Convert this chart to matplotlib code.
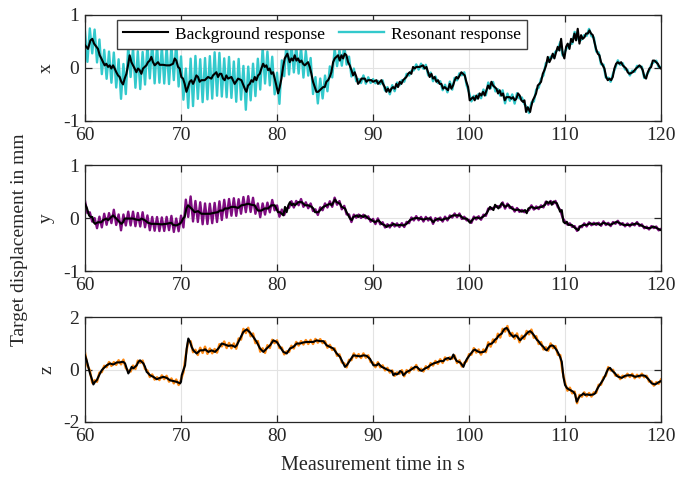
import numpy as np
import matplotlib
matplotlib.use("Agg")
import matplotlib.pyplot as plt

plt.rcParams['font.family'] = ['Liberation Serif', 'DejaVu Serif']
plt.rcParams['axes.unicode_minus'] = False

# ---------------- x direction ----------------
x_time = [
    60.00, 60.31, 60.56, 60.76, 60.94, 61.18, 61.35, 61.53, 61.70, 61.88,
    62.05, 62.22, 62.40, 62.57, 62.74, 62.92, 63.09, 63.26, 63.44, 63.61,
    63.78, 63.96, 64.13, 64.31, 64.48, 64.65, 64.83, 65.00, 65.17, 65.35,
    65.52, 65.69, 65.87, 66.04, 66.22, 66.39, 66.56, 66.74, 66.91, 67.08,
    67.26, 67.43, 67.60, 67.78, 68.13, 68.47, 68.82, 69.17, 69.34, 69.51,
    69.69, 69.86, 70.03, 70.21, 70.38, 70.56, 70.73, 70.90, 71.08, 71.25,
    71.42, 71.60, 71.77, 71.94, 72.12, 72.47, 72.81, 73.16, 73.33, 73.68,
    73.85, 74.03, 74.20, 74.38, 74.55, 74.72, 74.90, 75.25, 75.59, 75.94,
    76.29, 76.64, 76.81, 76.98, 77.16, 77.33, 77.50, 77.68, 77.85, 78.03,
    78.20, 78.37, 78.55, 78.72, 78.89, 79.07, 79.24, 79.41, 79.59, 79.76,
    79.93, 80.11, 80.28, 80.46, 80.63, 80.80, 81.08, 81.32, 81.50, 81.67,
    81.84, 82.02, 82.19, 82.37, 82.54, 82.71, 82.89, 83.23, 83.41, 83.58,
    83.75, 83.93, 84.10, 84.28, 84.45, 84.62, 84.80, 84.97, 85.14, 85.32,
    85.49, 85.66, 85.84, 86.01, 86.18, 86.36, 86.53, 86.71, 86.88, 87.05,
    87.23, 87.40, 87.57, 87.75, 87.92, 88.09, 88.27, 88.44, 88.62, 88.79,
    89.14, 89.31, 89.48, 89.83, 90.00, 90.35, 90.52, 90.87, 91.04, 91.22,
    91.39, 91.56, 91.74, 91.91, 92.08, 92.26, 92.43, 92.60, 92.78, 92.95,
    93.13, 93.30, 93.47, 93.65, 93.82, 93.99, 94.17, 94.34, 94.51, 94.86,
    95.21, 95.38, 95.56, 95.73, 95.90, 96.08, 96.25, 96.42, 96.60, 96.77,
    96.94, 97.12, 97.29, 97.47, 97.64, 97.81, 97.99, 98.16, 98.33, 98.51,
    98.68, 98.85, 99.03, 99.20, 99.38, 99.55, 99.72, 99.90, 100.07, 100.42,
    100.59, 100.76, 100.94, 101.11, 101.28, 101.46, 101.63, 101.81, 101.98, 102.15,
    102.33, 102.50, 102.67, 102.85, 103.02, 103.19, 103.37, 103.54, 103.72, 103.89,
    104.24, 104.41, 104.58, 104.76, 104.93, 105.10, 105.28, 105.45, 105.63, 105.77,
    105.94, 106.12, 106.36, 106.46, 106.64, 106.81, 106.98, 107.16, 107.33, 107.50,
    107.68, 107.85, 108.03, 108.20, 108.37, 108.55, 108.72, 108.89, 109.07, 109.24,
    109.41, 109.59, 109.76, 109.93, 110.11, 110.28, 110.46, 110.63, 110.80, 110.98,
    111.15, 111.32, 111.50, 111.67, 111.84, 112.02, 112.19, 112.37, 112.54, 112.71,
    112.89, 113.06, 113.23, 113.41, 113.58, 113.75, 113.93, 114.10, 114.28, 114.45,
    114.62, 114.80, 114.97, 115.14, 115.32, 115.49, 115.66, 115.84, 116.01, 116.18,
    116.36, 116.53, 116.71, 117.05, 117.40, 117.57, 117.75, 117.92, 118.09, 118.27,
    118.44, 118.62, 118.79, 118.97, 119.14, 119.31, 119.48, 119.66, 119.83, 120.00,
]
x_background = [
    0.43, 0.36, 0.52, 0.55, 0.46, 0.40, 0.36, 0.24, 0.18, 0.11,
    0.05, 0.08, 0.02, 0.05, -0.01, 0.05, -0.01, -0.08, -0.14, -0.17,
    -0.26, -0.31, -0.20, -0.11, 0.05, 0.24, 0.11, 0.05, -0.01, -0.08,
    -0.01, -0.04, -0.11, -0.01, 0.02, 0.05, 0.11, 0.14, 0.21, 0.11,
    0.05, 0.08, 0.11, 0.06, 0.06, 0.05, 0.05, 0.08, 0.18, 0.14,
    0.02, -0.01, -0.17, -0.20, -0.30, -0.45, -0.36, -0.26, -0.23, -0.30,
    -0.23, -0.14, -0.17, -0.26, -0.23, -0.23, -0.17, -0.20, -0.14, -0.08,
    -0.17, -0.11, -0.11, -0.20, -0.23, -0.14, -0.20, -0.17, -0.30, -0.20,
    -0.23, -0.39, -0.45, -0.33, -0.30, -0.23, -0.26, -0.17, -0.23, -0.14,
    -0.11, -0.01, 0.08, 0.02, 0.05, -0.04, -0.01, -0.11, -0.08, -0.20,
    -0.33, -0.48, -0.36, -0.20, 0.02, 0.18, 0.27, 0.11, 0.18, 0.14,
    0.24, 0.14, 0.18, 0.11, 0.14, 0.08, 0.05, 0.11, 0.02, -0.11,
    -0.26, -0.36, -0.45, -0.45, -0.42, -0.39, -0.36, -0.36, -0.26, -0.23,
    -0.17, -0.08, 0.11, 0.18, 0.21, 0.24, 0.14, 0.24, 0.18, 0.27,
    0.24, 0.11, 0.05, -0.04, -0.14, -0.08, -0.17, -0.30, -0.26, -0.20,
    -0.20, -0.26, -0.23, -0.23, -0.26, -0.23, -0.30, -0.23, -0.30, -0.36,
    -0.45, -0.39, -0.45, -0.39, -0.36, -0.39, -0.30, -0.36, -0.26, -0.30,
    -0.23, -0.20, -0.17, -0.11, -0.08, -0.11, 0.02, -0.01, 0.02, 0.02,
    0.05, -0.01, 0.02, -0.08, -0.17, -0.11, -0.20, -0.17, -0.26, -0.23,
    -0.30, -0.30, -0.39, -0.36, -0.39, -0.42, -0.30, -0.39, -0.33, -0.23,
    -0.17, -0.20, -0.14, -0.08, -0.11, -0.14, -0.26, -0.36, -0.61, -0.55,
    -0.61, -0.52, -0.58, -0.48, -0.52, -0.45, -0.52, -0.42, -0.33, -0.39,
    -0.26, -0.33, -0.36, -0.39, -0.48, -0.42, -0.52, -0.48, -0.61, -0.55,
    -0.55, -0.58, -0.55, -0.61, -0.58, -0.48, -0.52, -0.61, -0.64, -0.61,
    -0.83, -0.74, -0.83, -0.74, -0.61, -0.55, -0.48, -0.33, -0.30, -0.26,
    -0.11, -0.04, 0.05, 0.21, 0.11, 0.18, 0.27, 0.18, 0.30, 0.40,
    0.33, 0.55, 0.27, 0.18, 0.40, 0.46, 0.36, 0.55, 0.49, 0.65,
    0.52, 0.74, 0.46, 0.62, 0.55, 0.58, 0.65, 0.65, 0.71, 0.65,
    0.62, 0.49, 0.36, 0.27, 0.24, 0.11, 0.05, -0.01, -0.17, -0.23,
    -0.20, -0.23, -0.17, -0.01, 0.08, 0.11, 0.08, 0.11, 0.05, 0.02,
    -0.01, -0.08, -0.11, -0.08, -0.01, 0.02, 0.05, 0.02, -0.04, -0.17,
    -0.20, -0.08, -0.01, 0.02, 0.14, 0.14, 0.11, 0.08, 0.02, -0.01,
]
# half peak-to-peak size of the resonant swing about the background
x_swing_time = [60, 61, 63, 64, 65, 70, 71, 75, 78, 80, 83, 85, 87, 88, 89, 90, 100, 103, 110, 113, 120]
x_swing = [0.25, 0.28, 0.27, 0.36, 0.33, 0.36, 0.42, 0.40, 0.33, 0.30, 0.25, 0.20, 0.18, 0.10, 0.06, 0.05, 0.05, 0.07, 0.05, 0.04, 0.03]

# ---------------- y direction ----------------
y_time = [
    60.00, 60.21, 60.42, 60.56, 60.76, 60.90, 61.04, 61.35, 61.70, 61.88,
    62.22, 62.40, 62.74, 62.92, 63.26, 63.61, 63.78, 63.96, 64.13, 64.48,
    65.00, 65.35, 65.69, 65.87, 66.22, 66.56, 66.91, 67.43, 67.95, 68.47,
    69.00, 69.17, 69.51, 69.86, 70.03, 70.21, 70.38, 70.56, 70.73, 71.08,
    71.42, 71.77, 72.12, 72.47, 72.99, 73.51, 73.85, 74.03, 74.38, 74.55,
    74.90, 75.24, 75.59, 75.94, 76.29, 76.63, 76.98, 77.33, 77.67, 77.85,
    78.02, 78.37, 78.72, 79.06, 79.41, 79.76, 80.10, 80.31, 80.66, 80.83,
    81.00, 81.18, 81.35, 81.53, 81.70, 81.87, 82.22, 82.57, 82.91, 83.26,
    83.61, 83.78, 83.96, 84.30, 84.65, 84.82, 85.17, 85.52, 85.69, 86.04,
    86.21, 86.56, 86.73, 87.08, 87.25, 87.43, 87.60, 87.78, 87.95, 88.30,
    88.47, 88.64, 88.99, 89.16, 89.51, 89.86, 90.21, 90.55, 90.90, 91.25,
    91.42, 91.59, 91.94, 92.12, 92.46, 92.81, 93.16, 93.50, 93.85, 94.20,
    94.55, 94.89, 95.24, 95.59, 95.94, 96.28, 96.46, 96.80, 97.15, 97.50,
    97.84, 98.19, 98.37, 98.71, 99.06, 99.41, 99.75, 100.10, 100.46, 100.80,
    101.15, 101.50, 101.84, 102.19, 102.54, 102.71, 103.06, 103.41, 103.75, 104.10,
    104.45, 104.80, 105.14, 105.49, 105.84, 106.01, 106.18, 106.53, 106.88, 107.23,
    107.57, 107.92, 108.09, 108.27, 108.44, 108.62, 108.79, 109.14, 109.31, 109.48,
    109.66, 109.83, 110.00, 110.18, 110.35, 110.70, 111.05, 111.39, 111.57, 111.91,
    112.26, 112.61, 112.96, 113.30, 113.65, 114.00, 114.34, 114.69, 115.04, 115.39,
    115.73, 116.08, 116.43, 116.78, 117.12, 117.47, 117.82, 118.16, 118.51, 118.86,
    119.20, 119.55, 120.00,
]
y_background = [
    0.27, 0.18, 0.05, 0.02, 0.02, -0.08, -0.11, -0.08, -0.08, -0.04,
    -0.01, -0.04, 0.02, 0.05, -0.01, -0.08, -0.11, -0.08, -0.01, -0.01,
    -0.01, -0.03, -0.04, -0.01, -0.04, -0.09, -0.11, -0.11, -0.12, -0.11,
    -0.09, -0.13, -0.14, -0.11, -0.08, -0.01, 0.02, 0.18, 0.24, 0.18,
    0.11, 0.13, 0.08, 0.08, 0.08, 0.10, 0.11, 0.14, 0.14, 0.18,
    0.18, 0.21, 0.21, 0.19, 0.24, 0.25, 0.27, 0.25, 0.24, 0.18,
    0.14, 0.14, 0.18, 0.18, 0.24, 0.24, 0.11, 0.11, 0.05, 0.21,
    0.11, 0.24, 0.30, 0.24, 0.27, 0.24, 0.30, 0.30, 0.24, 0.24,
    0.21, 0.18, 0.11, 0.11, 0.18, 0.21, 0.24, 0.27, 0.24, 0.35,
    0.30, 0.27, 0.21, 0.18, 0.11, 0.05, -0.01, -0.04, 0.02, 0.05,
    0.02, 0.05, 0.02, 0.05, -0.01, -0.04, -0.08, -0.04, -0.11, -0.14,
    -0.17, -0.14, -0.14, -0.11, -0.14, -0.13, -0.14, -0.11, -0.04, -0.01,
    0.00, -0.01, -0.03, -0.01, -0.01, -0.08, -0.04, -0.01, -0.04, -0.01,
    -0.01, 0.04, 0.05, 0.05, 0.05, -0.01, -0.01, -0.09, -0.01, 0.01,
    -0.01, 0.03, 0.09, 0.21, 0.15, 0.25, 0.18, 0.28, 0.21, 0.25,
    0.18, 0.15, 0.16, 0.12, 0.15, 0.09, 0.18, 0.21, 0.18, 0.20,
    0.21, 0.25, 0.31, 0.28, 0.31, 0.25, 0.31, 0.28, 0.21, 0.12,
    0.15, -0.07, -0.10, -0.07, -0.13, -0.13, -0.19, -0.23, -0.16, -0.13,
    -0.13, -0.10, -0.12, -0.10, -0.13, -0.09, -0.11, -0.13, -0.10, -0.07,
    -0.10, -0.13, -0.13, -0.13, -0.12, -0.10, -0.13, -0.16, -0.19, -0.19,
    -0.16, -0.19, -0.23,
]
y_swing_time = [60, 61, 64, 70, 70.5, 72, 75, 78, 80, 82, 88, 110, 120]
y_swing = [0.05, 0.10, 0.13, 0.13, 0.22, 0.20, 0.17, 0.13, 0.09, 0.06, 0.04, 0.03, 0.025]

# ---------------- z direction ----------------
z_time = [
    60.00, 60.17, 60.35, 60.52, 60.69, 60.87, 61.04, 61.22, 61.39, 61.56,
    61.74, 61.91, 62.08, 62.26, 62.60, 62.95, 63.30, 63.65, 63.82, 63.99,
    64.17, 64.34, 64.51, 64.69, 64.86, 65.03, 65.21, 65.38, 65.56, 65.73,
    65.90, 66.08, 66.25, 66.42, 66.60, 66.77, 67.12, 67.47, 67.81, 68.16,
    68.51, 68.85, 69.20, 69.55, 69.90, 70.00, 70.07, 70.24, 70.42, 70.59,
    70.76, 70.94, 71.11, 71.28, 71.63, 71.98, 72.33, 72.50, 72.85, 73.19,
    73.54, 73.89, 74.24, 74.58, 74.93, 75.28, 75.63, 75.80, 76.15, 76.49,
    76.84, 77.19, 77.53, 77.88, 78.23, 78.58, 78.92, 79.27, 79.62, 79.97,
    80.31, 80.66, 81.01, 81.35, 81.70, 82.05, 82.40, 82.74, 83.09, 83.44,
    83.78, 84.13, 84.48, 84.83, 85.17, 85.52, 85.87, 86.22, 86.56, 86.91,
    87.08, 87.26, 87.60, 87.95, 88.30, 88.65, 89.00, 89.34, 89.69, 90.04,
    90.39, 90.56, 90.73, 90.91, 91.25, 91.60, 91.95, 92.12, 92.30, 92.47,
    92.64, 92.82, 92.99, 93.16, 93.34, 93.51, 93.86, 94.21, 94.38, 94.55,
    94.73, 94.90, 95.07, 95.42, 95.77, 95.94, 96.29, 96.64, 96.98, 97.33,
    97.50, 97.68, 97.85, 98.03, 98.20, 98.37, 98.55, 98.72, 99.07, 99.24,
    99.41, 99.59, 99.76, 99.93, 100.11, 100.28, 100.46, 100.63, 100.80, 101.15,
    101.50, 101.67, 101.84, 102.02, 102.37, 102.54, 102.71, 102.89, 103.06, 103.23,
    103.41, 103.58, 103.75, 103.93, 104.10, 104.28, 104.45, 104.62, 104.80, 104.97,
    105.14, 105.32, 105.49, 105.66, 105.84, 106.01, 106.18, 106.36, 106.53, 106.71,
    106.88, 107.05, 107.23, 107.40, 107.57, 107.75, 107.92, 108.09, 108.27, 108.44,
    108.62, 108.79, 108.96, 109.14, 109.31, 109.48, 109.66, 109.83, 110.00, 110.18,
    110.35, 110.52, 110.87, 111.05, 111.22, 111.39, 111.57, 111.74, 111.91, 112.09,
    112.26, 112.61, 112.96, 113.13, 113.30, 113.48, 113.65, 113.82, 114.00, 114.17,
    114.34, 114.52, 114.69, 114.87, 115.04, 115.21, 115.39, 115.56, 115.91, 116.25,
    116.60, 116.95, 117.30, 117.64, 117.99, 118.34, 118.69, 119.03, 119.38, 119.73,
    120.00,
]
z_background = [
    0.54, 0.35, 0.10, -0.15, -0.34, -0.57, -0.47, -0.41, -0.28, -0.15,
    -0.03, 0.04, 0.10, 0.16, 0.23, 0.19, 0.27, 0.27, 0.29, 0.29,
    0.23, 0.04, -0.15, -0.03, 0.10, 0.04, 0.10, 0.16, 0.29, 0.35,
    0.29, 0.23, 0.10, -0.09, -0.15, -0.22, -0.28, -0.37, -0.32, -0.28,
    -0.32, -0.41, -0.44, -0.47, -0.53, -0.47, -0.22, -0.03, 0.16, 0.80,
    1.18, 1.05, 0.86, 0.73, 0.61, 0.73, 0.73, 0.77, 0.67, 0.73,
    0.67, 0.80, 0.99, 0.95, 0.90, 0.92, 0.86, 0.92, 1.18, 1.43,
    1.53, 1.41, 1.24, 1.05, 0.80, 0.67, 0.80, 0.92, 1.11, 1.05,
    0.86, 0.67, 0.61, 0.80, 0.86, 0.99, 0.99, 1.03, 1.05, 1.05,
    1.05, 1.11, 1.08, 1.08, 0.92, 0.86, 0.80, 0.61, 0.48, 0.23,
    0.10, 0.16, 0.35, 0.54, 0.52, 0.50, 0.54, 0.52, 0.40, 0.16,
    0.16, 0.23, 0.16, 0.10, 0.04, -0.03, -0.06, -0.22, -0.15, -0.19,
    -0.15, -0.06, -0.09, -0.22, -0.15, -0.09, -0.03, 0.06, 0.10, 0.10,
    0.04, -0.03, -0.05, 0.04, 0.10, 0.16, 0.23, 0.27, 0.32, 0.32,
    0.39, 0.42, 0.44, 0.39, 0.44, 0.57, 0.42, 0.32, 0.27, 0.19,
    0.10, 0.27, 0.39, 0.48, 0.57, 0.65, 0.73, 0.76, 0.71, 0.65,
    0.67, 0.70, 0.82, 0.95, 0.99, 1.05, 1.14, 1.18, 1.28, 1.33,
    1.37, 1.49, 1.56, 1.58, 1.49, 1.37, 1.30, 1.24, 1.30, 1.28,
    1.20, 1.11, 1.18, 1.24, 1.30, 1.37, 1.43, 1.46, 1.41, 1.33,
    1.24, 1.14, 1.08, 0.99, 0.92, 0.86, 0.77, 0.73, 0.82, 0.89,
    0.92, 0.90, 0.82, 0.73, 0.61, 0.48, 0.29, -0.28, -0.59, -0.70,
    -0.75, -0.78, -0.85, -0.95, -1.23, -1.10, -1.00, -0.97, -0.91, -0.97,
    -0.95, -0.97, -0.95, -0.91, -0.78, -0.66, -0.57, -0.47, -0.37, -0.24,
    -0.09, 0.04, 0.06, -0.03, -0.09, -0.15, -0.24, -0.28, -0.32, -0.24,
    -0.22, -0.22, -0.28, -0.25, -0.22, -0.24, -0.37, -0.53, -0.57, -0.49,
    -0.44,
]
z_swing_time = [60, 62, 65, 67, 72, 78, 80, 100, 103, 107, 110, 112, 120]
z_swing = [0.10, 0.07, 0.10, 0.07, 0.10, 0.12, 0.08, 0.07, 0.12, 0.10, 0.09, 0.07, 0.06]

# Resonance frequency of the target in Hz
f_res = 2.0

x_ticks = [60, 70, 80, 90, 100, 110, 120]
panel_names = ['x', 'y', 'z']
panel_ylims = [(-1, 1), (-1, 1), (-2, 2)]
panel_yticks = [[-1, 0, 1], [-1, 0, 1], [-2, 0, 2]]
res_colors = ['#33C9CC', '#7E0C80', '#FF8A14']


def resonant_curve(t_bg, v_bg, sw_t, sw_v):
    # extrema of the resonant oscillation, two per period
    ts = np.arange(60.0, 120.0 + 1e-9, 0.5 / f_res)
    base = np.interp(ts, t_bg, v_bg)
    amp = np.interp(ts, sw_t, sw_v)
    sign = np.where(np.arange(ts.size) % 2 == 0, 1.0, -1.0)
    return ts, base + amp * sign


fig = plt.figure(figsize=(6.78, 4.79), dpi=100)
rects = [
    [0.1254, 0.7474, 0.8496, 0.2213],
    [0.1254, 0.4342, 0.8496, 0.2213],
    [0.1254, 0.1190, 0.8496, 0.2192],
]
series = [
    (x_time, x_background, x_swing_time, x_swing),
    (y_time, y_background, y_swing_time, y_swing),
    (z_time, z_background, z_swing_time, z_swing),
]

axes = []
for i, rect in enumerate(rects):
    ax = fig.add_axes(rect)
    t_bg, v_bg, sw_t, sw_v = series[i]
    tr, vr = resonant_curve(t_bg, v_bg, sw_t, sw_v)
    ax.plot(tr, vr, color=res_colors[i], lw=1.7, label='Resonant response', zorder=2)
    ax.plot(t_bg, v_bg, color='black', lw=1.5, label='Background response', zorder=3)
    ax.set_xlim(60, 120)
    ax.set_ylim(*panel_ylims[i])
    ax.set_xticks(x_ticks)
    ax.set_yticks(panel_yticks[i])
    ax.grid(True, color='#E3E3E3', lw=0.8)
    ax.set_axisbelow(True)
    ax.tick_params(direction='in', top=True, right=True, length=5,
                   width=0.9, labelsize=14, colors='#262626', pad=4)
    for s in ax.spines.values():
        s.set_color('#262626')
        s.set_linewidth(0.9)
    ax.set_ylabel(panel_names[i], fontsize=14, color='#262626')
    ax.yaxis.set_label_coords(-0.052, 0.5)
    axes.append(ax)

h, l = axes[0].get_legend_handles_labels()
leg = axes[0].legend([h[1], h[0]], [l[1], l[0]], loc='upper left',
                     bbox_to_anchor=(0.055, 0.95), ncol=2, fontsize=12.5,
                     frameon=True, fancybox=False, edgecolor='#404040',
                     framealpha=1, handlelength=2.6, columnspacing=0.8,
                     handletextpad=0.4, borderpad=0.35, borderaxespad=0)
leg.get_frame().set_linewidth(1.0)

fig.text(0.029, 0.50, 'Target displacement in mm', rotation=90,
         ha='center', va='center', fontsize=14, color='#262626')
fig.text(0.55, 0.029, 'Measurement time in s', ha='center', va='center',
         fontsize=14.5, color='#262626')

fig.savefig('out.png', dpi=100)
